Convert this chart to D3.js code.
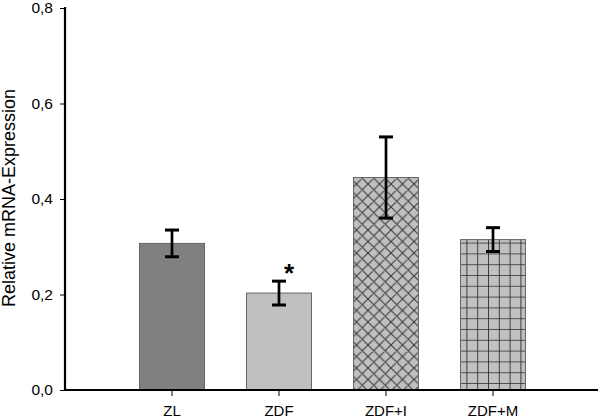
<!DOCTYPE html>
<html><head><meta charset="utf-8">
<script src="https://cdn.jsdelivr.net/npm/d3@7"></script>
<style>html,body{margin:0;padding:0;background:#fff}</style>
</head><body>
<script>
const categories = ["ZL", "ZDF", "ZDF+I", "ZDF+M"];
const values = [0.307, 0.203, 0.445, 0.315];
const errors = [0.028, 0.025, 0.085, 0.025];
const significance = ["", "*", "", ""];
const yTicks = [0, 0.2, 0.4, 0.6, 0.8];
const fills = ["#808080", "#c0c0c0", "url(#cross)", "url(#grid)"];

const W = 600, H = 418;
const FONT = "'Liberation Sans', Arial, sans-serif";
const svg = d3.select("body").append("svg").attr("width", W).attr("height", H);
const defs = svg.append("defs");

const P = 11.5;
const cross = defs.append("pattern").attr("id", "cross").attr("patternUnits", "userSpaceOnUse")
  .attr("width", P).attr("height", P);
cross.append("rect").attr("width", P).attr("height", P).attr("fill", "#c0c0c0");
cross.append("path").attr("d", `M0,0L${P},${P}M${P},0L0,${P}M-1,${P-1}L1,${P+1}M${P-1},-1L${P+1},1M-1,1L1,-1M${P-1},${P+1}L${P+1},${P-1}`)
  .attr("stroke", "#3a3a3a").attr("stroke-width", 1.1);

const G = 10.8;
const grid = defs.append("pattern").attr("id", "grid").attr("patternUnits", "userSpaceOnUse")
  .attr("width", G).attr("height", G).attr("x", 2).attr("y", 5);
grid.append("rect").attr("width", G).attr("height", G).attr("fill", "#c0c0c0");
grid.append("path").attr("d", `M0,0V${G}M0,0H${G}`).attr("stroke", "#2a2a2a").attr("stroke-width", 1.7);

const x0 = 65, x1 = 598, yTop = 8, yBot = 390;
const x = d3.scaleLinear().domain([0, 5]).range([x0, x1 + 2]);
const y = d3.scaleLinear().domain([0, 0.8]).range([yBot, yTop]);
const barW = 65;

const g = svg.append("g");
categories.forEach((c, i) => {
  const cx = x(i + 1);
  g.append("rect").attr("x", cx - barW / 2).attr("y", y(values[i]))
    .attr("width", barW).attr("height", y(0) - y(values[i]))
    .attr("fill", fills[i]).attr("stroke", "#666").attr("stroke-width", 1);
});

categories.forEach((c, i) => {
  const cx = x(i + 1);
  const lo = y(values[i] - errors[i]), hi = y(values[i] + errors[i]);
  g.append("line").attr("x1", cx).attr("x2", cx).attr("y1", lo).attr("y2", hi)
    .attr("stroke", "#000").attr("stroke-width", 2.7);
  [lo, hi].forEach(yy => g.append("line").attr("x1", cx - 7).attr("x2", cx + 7)
    .attr("y1", yy).attr("y2", yy).attr("stroke", "#000").attr("stroke-width", 3));
  if (significance[i]) {
    g.append("text").attr("x", cx + 10).attr("y", hi + 1).attr("text-anchor", "middle")
      .attr("font-family", FONT).attr("font-size", 26)
      .attr("font-weight", "bold").text(significance[i]);
  }
});

const yAxis = d3.axisLeft(y).tickValues(yTicks).tickSize(5).tickPadding(7)
  .tickFormat(d => d3.format(".1f")(d).replace(".", ","));
const ya = svg.append("g").attr("transform", `translate(${x0},0)`).call(yAxis);
ya.select(".domain").remove();
ya.selectAll(".tick line").attr("stroke", "#000").attr("stroke-width", 1);
ya.selectAll("text").attr("font-family", FONT).attr("font-size", 15.5).attr("fill", "#000");

const xa = svg.append("g");
categories.forEach((c, i) => {
  const cx = x(i + 1);
  xa.append("line").attr("x1", cx).attr("x2", cx).attr("y1", yBot).attr("y2", yBot + 6)
    .attr("stroke", "#000").attr("stroke-width", 1);
  xa.append("text").attr("x", cx).attr("y", 416).attr("text-anchor", "middle")
    .attr("font-family", FONT).attr("font-size", 15).text(c);
});

svg.append("line").attr("x1", x0).attr("x2", x0).attr("y1", yTop - 1).attr("y2", yBot + 1)
  .attr("stroke", "#000").attr("stroke-width", 2.2);
svg.append("line").attr("x1", x0 - 1).attr("x2", x1).attr("y1", yBot).attr("y2", yBot)
  .attr("stroke", "#000").attr("stroke-width", 2.2);

svg.append("text").attr("transform", `translate(9,198) rotate(-90)`)
  .attr("text-anchor", "middle").attr("dy", "0.35em")
  .attr("font-family", FONT).attr("font-size", 18)
  .text("Relative mRNA-Expression");
</script>
</body></html>
